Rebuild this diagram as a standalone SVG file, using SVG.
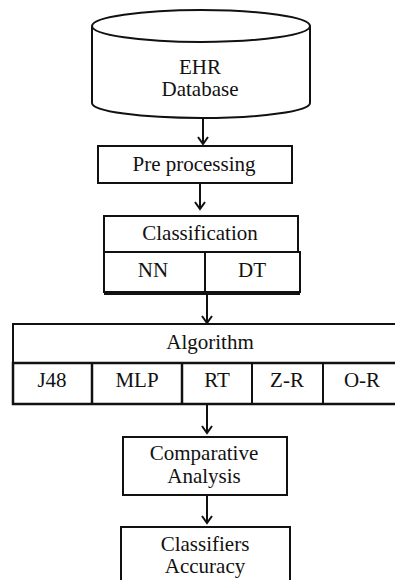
<svg xmlns="http://www.w3.org/2000/svg" width="395" height="580" viewBox="0 0 395 580">
<style>
.box{fill:#fff;stroke:#111;stroke-width:2}
.t{font-family:"Times New Roman",Times,"Liberation Serif","Noto Serif","DejaVu Serif",serif;font-size:21px;fill:#111;text-anchor:middle}
.c{stroke:#111;stroke-width:2;fill:none}
</style>
<defs>
<marker id="ah" viewBox="0 0 12 12" refX="10" refY="6" markerWidth="12" markerHeight="12" markerUnits="userSpaceOnUse" orient="auto">
<path d="M3,1 L10,6 L3,11" fill="none" stroke="#111" stroke-width="2"/>
</marker>
</defs>
<rect width="395" height="580" fill="#fff"/>
<g id="ehr">
<path class="box" d="M92,26 L92,103 A109,15 0 0 0 310,103 L310,26"/>
<ellipse class="box" cx="201" cy="26" rx="109" ry="16"/>
<text class="t" x="200" y="74">EHR</text>
<text class="t" x="200" y="96">Database</text>
</g>
<g id="preprocessing">
<rect class="box" x="98" y="146" width="194" height="37"/>
<text class="t" x="194" y="171">Pre processing</text>
</g>
<g id="classification">
<rect class="box" x="104" y="216" width="194" height="36"/>
<rect class="box" x="104" y="252" width="196" height="40"/>
<line class="c" x1="104" y1="294" x2="300" y2="294"/>
<line class="c" x1="205" y1="252" x2="205" y2="292"/>
<text class="t" x="200" y="240">Classification</text>
<text class="t" x="153" y="277">NN</text>
<text class="t" x="252" y="277">DT</text>
</g>
<g id="algorithm">
<rect class="box" x="13" y="324" width="400" height="39"/>
<rect class="box" x="13" y="363" width="400" height="41" style="stroke-width:2.5"/>
<line class="c" x1="92" y1="363" x2="92" y2="404" style="stroke-width:2.5"/>
<line class="c" x1="182" y1="363" x2="182" y2="404" style="stroke-width:2.5"/>
<line class="c" x1="252" y1="363" x2="252" y2="404"/>
<line class="c" x1="323" y1="363" x2="323" y2="404"/>
<text class="t" x="210" y="349">Algorithm</text>
<text class="t" x="52" y="387">J48</text>
<text class="t" x="137" y="387">MLP</text>
<text class="t" x="217" y="387">RT</text>
<text class="t" x="287" y="387">Z-R</text>
<text class="t" x="362" y="387">O-R</text>
</g>
<g id="comparative">
<rect class="box" x="123" y="437" width="164" height="58"/>
<text class="t" x="204" y="460">Comparative</text>
<text class="t" x="204" y="483">Analysis</text>
</g>
<g id="accuracy">
<rect class="box" x="121" y="527" width="169" height="60"/>
<text class="t" x="205" y="551">Classifiers</text>
<text class="t" x="205" y="573">Accuracy</text>
</g>
<g id="connectors">
<line class="c" x1="203" y1="118" x2="203" y2="144" marker-end="url(#ah)"/>
<line class="c" x1="200" y1="183" x2="200" y2="209" marker-end="url(#ah)"/>
<line class="c" x1="207" y1="295" x2="207" y2="323" marker-end="url(#ah)"/>
<line class="c" x1="207" y1="405" x2="207" y2="433" marker-end="url(#ah)"/>
<line class="c" x1="207" y1="495" x2="207" y2="523" marker-end="url(#ah)"/>
</g>
</svg>
